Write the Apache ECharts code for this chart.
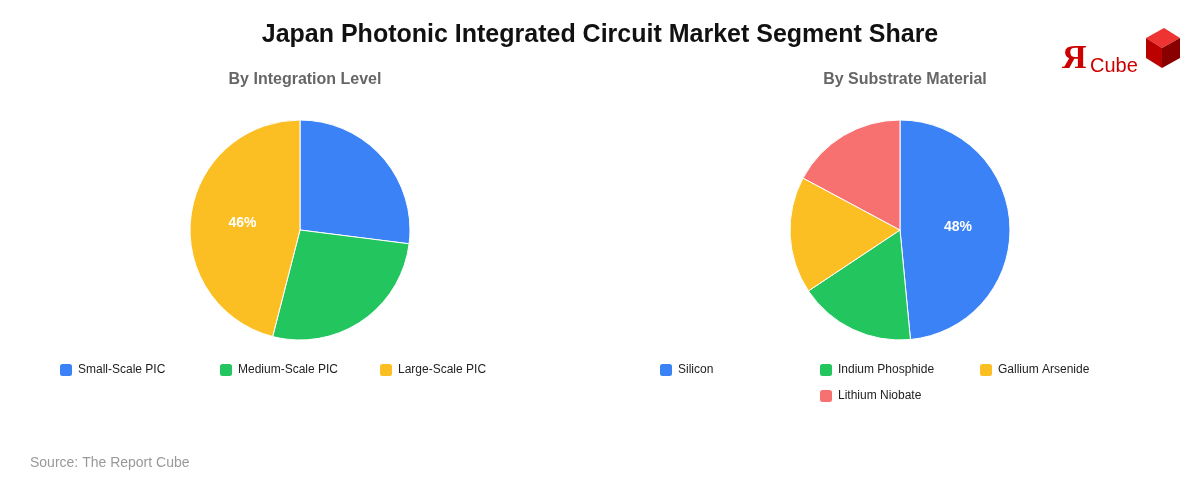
<!DOCTYPE html>
<html><head><meta charset="utf-8">
<script src="https://cdn.jsdelivr.net/npm/echarts@6/dist/echarts.min.js"></script>
<style>html,body{margin:0;background:#fff}#c{width:1200px;height:480px}</style>
</head><body><div id="c"></div>
<script>
var levelNames = ['Small-Scale PIC', 'Medium-Scale PIC', 'Large-Scale PIC'];
var levelValues = [27, 27, 46];
var materialNames = ['Silicon', 'Indium Phosphide', 'Gallium Arsenide', 'Lithium Niobate'];
var materialValues = [48, 17, 17, 17];
var colors = ['#3b82f6', '#22c55e', '#fbbf24', '#f87171'];

var chart = echarts.init(document.getElementById('c'));

function pieData(names, values) {
	return names.map(function(n, i) {
		return { name: n, value: values[i], itemStyle: { color: colors[i] } };
	});
}

function pie(names, values, cx) {
	return {
		type: 'pie',
		center: [cx, 230],
		radius: 110,
		startAngle: 90,
		clockwise: true,
		animation: false,
		itemStyle: { borderColor: '#fff', borderWidth: 1 },
		label: {
			show: true,
			position: 'inside',
			color: '#fff',
			fontWeight: 'bold',
			fontSize: 14,
			fontFamily: 'Liberation Sans',
			formatter: function(p) { return p.value >= 40 ? p.value + '%' : ''; }
		},
		labelLine: { show: false },
		emphasis: { disabled: true },
		data: pieData(names, values)
	};
}

// one legend per item so they sit on a fixed grid
var legendPos = [
	[60, 362], [220, 362], [380, 362],
	[660, 362], [820, 362], [980, 362], [820, 388]
];
var allNames = levelNames.concat(materialNames);
var legends = allNames.map(function(n, i) {
	return {
		data: [n],
		left: legendPos[i][0] - 7,
		top: legendPos[i][1] - 5,
		itemWidth: 14,
		itemHeight: 14,
		itemGap: 6,
		icon: 'roundRect',
		textStyle: { fontSize: 12, color: '#222', fontFamily: 'Liberation Sans' }
	};
});

chart.setOption({
	title: [{
		text: 'Japan Photonic Integrated Circuit Market Segment Share',
		left: 'center', top: 18,
		textStyle: { fontSize: 25, fontWeight: 'bold', color: '#111', fontFamily: 'Liberation Sans' }
	}, {
		text: 'By Integration Level', left: 300, top: 67, textAlign: 'center',
		textStyle: { fontSize: 16, fontWeight: 'bold', color: '#666', fontFamily: 'Liberation Sans' }
	}, {
		text: 'By Substrate Material', left: 900, top: 67, textAlign: 'center',
		textStyle: { fontSize: 16, fontWeight: 'bold', color: '#666', fontFamily: 'Liberation Sans' }
	}, {
		text: 'Source: The Report Cube', left: 25, top: 451,
		textStyle: { fontSize: 14, fontWeight: 'normal', color: '#999', fontFamily: 'Liberation Sans' }
	}],
	legend: legends,
	graphic: [{
		type: 'text', left: 1062, top: 42,
		style: { text: 'Я', fill: '#c00', font: 'bold 34px Liberation Serif' }
	}, {
		type: 'text', left: 1090, top: 56,
		style: { text: 'Cube', fill: '#c00', font: '20px Liberation Sans' }
	}, {
		type: 'polygon', shape: { points: [[1146, 38], [1164, 28], [1180, 38], [1162, 48]] },
		style: { fill: '#e33' }
	}, {
		type: 'polygon', shape: { points: [[1146, 38], [1162, 48], [1162, 68], [1146, 58]] },
		style: { fill: '#b00' }
	}, {
		type: 'polygon', shape: { points: [[1162, 48], [1180, 38], [1180, 58], [1162, 68]] },
		style: { fill: '#800' }
	}],
	series: [pie(levelNames, levelValues, 300), pie(materialNames, materialValues, 900)]
});
</script></body></html>
